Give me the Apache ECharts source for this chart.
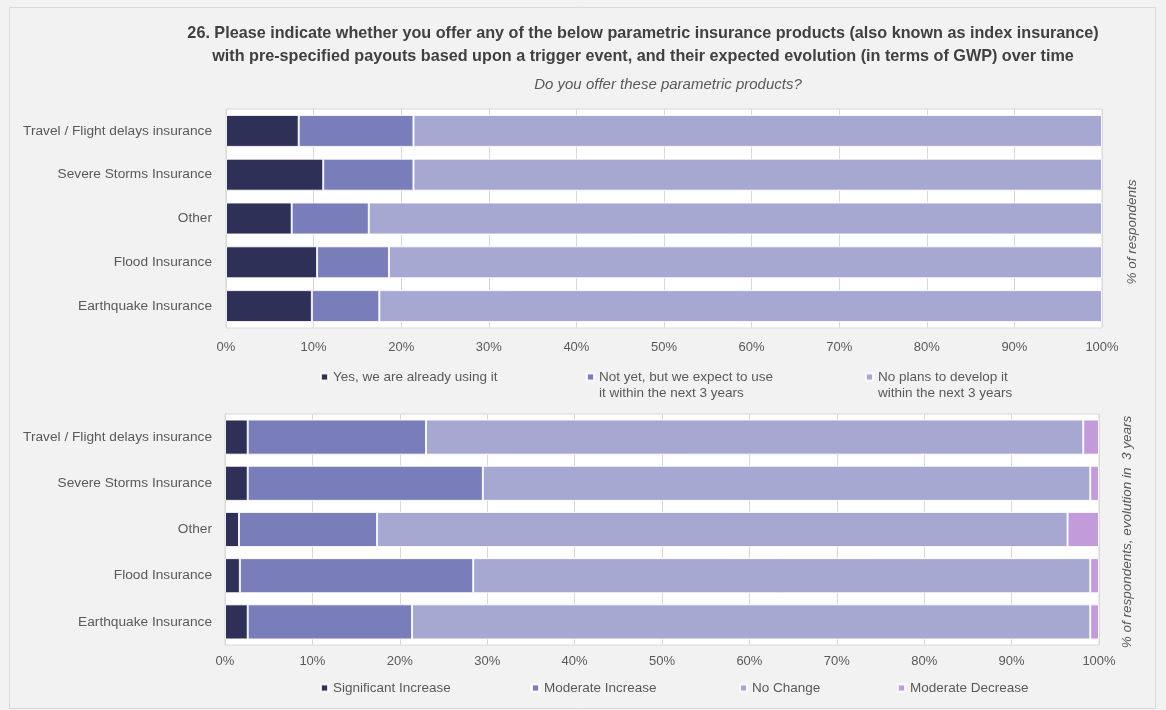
<!DOCTYPE html>
<html>
<head>
<meta charset="utf-8">
<script src="https://cdn.jsdelivr.net/npm/echarts@6/dist/echarts.min.js"></script>
<style>
html,body{margin:0;padding:0;background:#f2f2f2;}
#chart{width:1166px;height:710px;}
</style>
</head>
<body>
<div id="chart"></div>
<script>
// ---- Data ----
const categories = ["Travel / Flight delays insurance", "Severe Storms Insurance", "Other", "Flood Insurance", "Earthquake Insurance"];
const tickLabels = ["0%", "10%", "20%", "30%", "40%", "50%", "60%", "70%", "80%", "90%", "100%"];

// Top chart: Do you offer these parametric products? (% of respondents)
const offerNames = ["Yes, we are already using it", "Not yet, but we expect to use it within the next 3 years", "No plans to develop it within the next 3 years"];
const offerLegendText = ["Yes, we are already using it", "\nNot yet, but we expect to use\nit within the next 3 years", "\nNo plans to develop it\nwithin the next 3 years"];
const offerYes    = [8.3, 11.1, 7.5, 10.4, 9.8];
const offerNotYet = [13.1, 10.3, 8.8, 8.2, 7.7];
const offerNo     = [78.6, 78.6, 83.7, 81.4, 82.5];

// Bottom chart: evolution in 3 years (% of respondents)
const evoNames = ["Significant Increase", "Moderate Increase", "No Change", "Moderate Decrease"];
const evoSigInc = [2.6, 2.6, 1.6, 1.7, 2.6];
const evoModInc = [20.4, 26.9, 15.8, 26.7, 18.8];
const evoNoChg  = [75.2, 69.5, 79.0, 70.6, 77.6];
const evoModDec = [1.8, 1.0, 3.6, 1.0, 1.0];

const titleLines = ["26. Please indicate whether you offer any of the below parametric insurance products (also known as index insurance)",
                    "with pre-specified payouts based upon a trigger event, and their expected evolution (in terms of GWP) over time"];
const subtitle = "Do you offer these parametric products?";
const axisNameTop = "% of respondents";
const axisNameBottom = "% of respondents, evolution in  3 years";

// ---- Styling ----
const colors = ["#2f3057", "#797db9", "#a6a8d1", "#c29bdb"];
const txt = "#595959";
const font = "Liberation Sans";

const chart = echarts.init(document.getElementById('chart'), null, {renderer: 'canvas'});

function xAxisCfg(gridIndex, margin) {
  return {
    type: 'value', gridIndex: gridIndex, min: 0, max: 100, interval: 10,
    axisLine: {show: false}, axisTick: {show: false},
    axisLabel: {color: txt, fontSize: 13, fontFamily: font, margin: margin,
      formatter: function (v) { return tickLabels[Math.round(v / 10)]; }},
    splitLine: {show: true, lineStyle: {color: '#d9d9d9', width: 1}}
  };
}
function yAxisCfg(gridIndex, margin) {
  return {
    type: 'category', gridIndex: gridIndex, data: categories, inverse: true,
    axisLine: {show: false}, axisTick: {show: false},
    axisLabel: {color: txt, fontSize: 13.7, fontFamily: font, margin: margin}
  };
}
function barSeries(name, data, color, idx, stack, gap) {
  return {
    name: name, type: 'bar', stack: stack, data: data,
    xAxisIndex: idx, yAxisIndex: idx, barCategoryGap: gap,
    itemStyle: {color: color, borderColor: 'rgba(255,255,255,0.85)', borderWidth: 1},
    emphasis: {disabled: true}, animation: false
  };
}
function legendCfg(name, label, left, top) {
  return {
    data: [name],
    left: left, top: top, padding: 0, itemWidth: 7, itemHeight: 7, icon: 'rect',
    selectedMode: false,
    formatter: function () { return label; },
    textStyle: {color: txt, fontSize: 13.5, fontFamily: font, lineHeight: 16}
  };
}

const option = {
  backgroundColor: '#f2f2f2',
  animation: false,
  grid: [
    {left: 226, top: 109, width: 876, height: 219, show: true, backgroundColor: '#ffffff', borderColor: '#d9d9d9', borderWidth: 1},
    {left: 225, top: 414, width: 874, height: 231, show: true, backgroundColor: '#ffffff', borderColor: '#d9d9d9', borderWidth: 1}
  ],
  xAxis: [xAxisCfg(0, 13), xAxisCfg(1, 10)],
  yAxis: [yAxisCfg(0, 14), yAxisCfg(1, 13)],
  legend: [
    legendCfg(offerNames[0], offerLegendText[0], 320, 369),
    legendCfg(offerNames[1], offerLegendText[1], 586, 353),
    legendCfg(offerNames[2], offerLegendText[2], 865, 353),
    legendCfg(evoNames[0], evoNames[0], 320, 680),
    legendCfg(evoNames[1], evoNames[1], 531, 680),
    legendCfg(evoNames[2], evoNames[2], 739, 680),
    legendCfg(evoNames[3], evoNames[3], 897, 680)
  ],
  series: [
    barSeries(offerNames[0], offerYes, colors[0], 0, 'top', '27%'),
    barSeries(offerNames[1], offerNotYet, colors[1], 0, 'top', '27%'),
    barSeries(offerNames[2], offerNo, colors[2], 0, 'top', '27%'),
    barSeries(evoNames[0], evoSigInc, colors[0], 1, 'bot', '24%'),
    barSeries(evoNames[1], evoModInc, colors[1], 1, 'bot', '24%'),
    barSeries(evoNames[2], evoNoChg, colors[2], 1, 'bot', '24%'),
    barSeries(evoNames[3], evoModDec, colors[3], 1, 'bot', '24%')
  ],
  graphic: [
    {type: 'rect', left: 7, top: 5, shape: {width: 1146, height: 701}, style: {fill: 'none', stroke: '#d9d9d9', lineWidth: 1}, silent: true},
    {type: 'text', x: 643, y: 34, style: {text: titleLines[0], fill: '#404040', font: 'bold 16.2px "' + font + '"', align: 'center', verticalAlign: 'middle'}},
    {type: 'text', x: 643, y: 57, style: {text: titleLines[1], fill: '#404040', font: 'bold 16.2px "' + font + '"', align: 'center', verticalAlign: 'middle'}},
    {type: 'text', x: 668, y: 85, style: {text: subtitle, fill: txt, font: 'italic 15px "' + font + '"', align: 'center', verticalAlign: 'middle'}},
    {type: 'text', x: 1132, y: 232, rotation: Math.PI / 2, style: {text: axisNameTop, fill: txt, font: 'italic 13.5px "' + font + '"', align: 'center', verticalAlign: 'middle'}},
    {type: 'text', x: 1127, y: 532, rotation: Math.PI / 2, style: {text: axisNameBottom, fill: txt, font: 'italic 13.5px "' + font + '"', align: 'center', verticalAlign: 'middle'}}
  ]
};
chart.setOption(option);
</script>
</body>
</html>
